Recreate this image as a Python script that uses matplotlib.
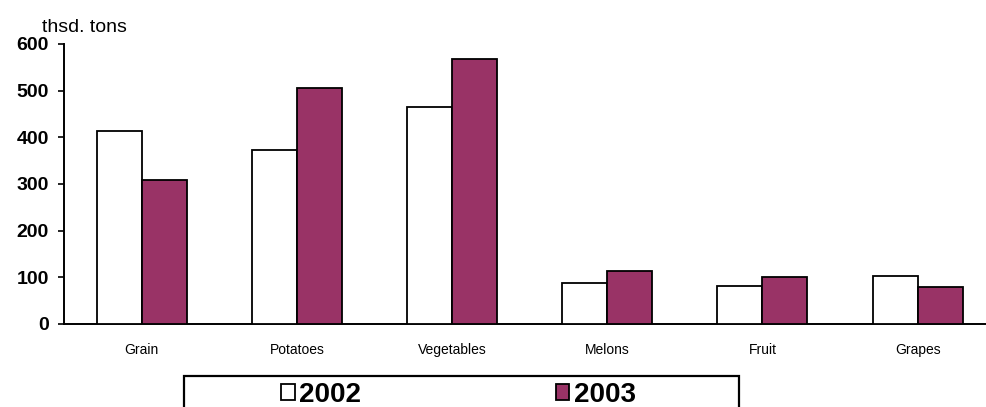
import matplotlib
matplotlib.use("Agg")
import matplotlib.pyplot as plt
from matplotlib.patches import Rectangle
import numpy as np

categories = ["Grain", "Potatoes", "Vegetables", "Melons", "Fruit", "Grapes"]
values_2002 = [414, 373, 464, 88, 81, 103]
values_2003 = [308, 505, 568, 114, 101, 80]
series_names = ["2002", "2003"]
yticks = [0, 100, 200, 300, 400, 500, 600]

plt.rcParams['font.family'] = ['Liberation Sans', 'DejaVu Sans']

W, H = 986, 407
fig = plt.figure(figsize=(W / 100, H / 100), dpi=100)
ax = fig.add_axes([64 / W, 1 - 324 / H, (W - 64) / W, (324 - 44) / H])

x = np.arange(len(categories))
bw = 0.29
b1 = ax.bar(x - bw / 2, values_2002, bw, color="white", edgecolor="black", linewidth=1.3, label=series_names[0], zorder=3)
b2 = ax.bar(x + bw / 2, values_2003, bw, color="#993366", edgecolor="black", linewidth=1.3, label=series_names[1], zorder=3)

ax.set_xlim(-0.5, 5.44)
ax.set_ylim(0, 600)
ax.set_yticks(yticks)
ax.set_yticklabels([str(v) for v in yticks], fontsize=14, fontweight="bold")
ax.set_xticks(x)
ax.set_xticklabels(categories, fontsize=10)
ax.tick_params(axis="x", length=0, pad=14)
ax.tick_params(axis="y", length=4, width=1.2, pad=7, direction="out")
for s in ["top", "right"]:
    ax.spines[s].set_visible(False)
for s in ["left", "bottom"]:
    ax.spines[s].set_linewidth(1.4)

fig.text(42 / W, 1 - 32 / H, "thsd. tons", fontsize=14, ha="left", va="baseline")

# legend box (extends below the figure edge)
rect = Rectangle((184 / W, -0.2), (739 - 184) / W, 0.2 + (1 - 376 / H),
                 transform=fig.transFigure, fill=False, edgecolor="black",
                 linewidth=1.6, clip_on=False)
fig.patches.append(rect)

leg = fig.legend(handles=[b1, b2], labels=series_names, ncol=2, loc="upper left",
                 bbox_to_anchor=(281 / W, 1 - 382 / H), frameon=False,
                 prop={"size": 20, "weight": "bold"}, handlelength=0.5,
                 handleheight=0.5, handletextpad=0.15, columnspacing=7.0,
                 borderpad=0, borderaxespad=0)

fig.savefig("out.png", dpi=100)
